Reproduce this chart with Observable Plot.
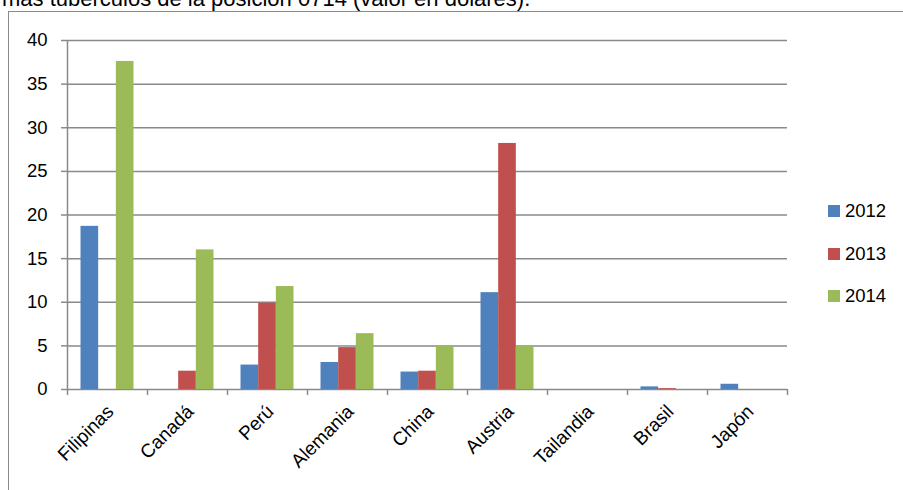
<!DOCTYPE html>
<html>
<head>
<meta charset="utf-8">
<script src="https://cdn.jsdelivr.net/npm/d3@7"></script>
<script src="https://cdn.jsdelivr.net/npm/@observablehq/plot@0.6"></script>
<style>
  html, body { margin: 0; padding: 0; background: #fff; }
  #wrap { position: relative; width: 903px; height: 490px; overflow: hidden; font-family: "Liberation Sans", Arial, sans-serif; }
  #title { position: absolute; left: 2px; top: -11.6px; font-size: 22px; line-height: 22px; white-space: nowrap; color: #000; }
  #frame { position: absolute; left: 8px; top: 11px; width: 1200px; height: 1200px; border-left: 1.5px solid #8a8a8a; border-top: 1.5px solid #8a8a8a; }
  #chart { position: absolute; left: 0; top: 0; }
  #legend { position: absolute; left: 828px; top: 198px; font-size: 18.5px; }
  .item { position: relative; height: 42.5px; }
  .sw { position: absolute; left: 0; top: 7px; width: 12px; height: 12px; }
  .lb { position: absolute; left: 17px; top: 0; line-height: 26px; }
</style>
</head>
<body>
<div id="wrap">
  <div id="frame"></div>
  <div id="title">mas tuberculos de la posición 0714 (valor en dólares).</div>
  <div id="chart"></div>
  <div id="legend"></div>
</div>
<script>
const countries = ["Filipinas", "Canadá", "Perú", "Alemania", "China", "Austria", "Tailandia", "Brasil", "Japón"];
const years = ["2012", "2013", "2014"];
const v2012 = [18.7, 0, 2.8, 3.1, 2.0, 11.1, 0, 0.3, 0.6];
const v2013 = [0, 2.1, 9.9, 4.8, 2.1, 28.2, 0, 0.1, 0];
const v2014 = [37.6, 16.0, 11.8, 6.4, 5.0, 5.0, 0, 0, 0];
const colors = ["#4F81BD", "#C0504D", "#9BBB59"];
const yTicks = [0, 5, 10, 15, 20, 25, 30, 35, 40];

const series = [v2012, v2013, v2014];
const data = [];
series.forEach((vals, j) => vals.forEach((v, i) => data.push({country: countries[i], year: years[j], value: v})));

const W = 903, H = 490, mL = 67, mR = 116, mT = 40, mB = 101;
const step = (W - mL - mR) / countries.length;   // band width
const pad = 13.5;
const bw = (step - 2 * pad) / years.length;

const barMarks = years.map((yr, j) =>
  Plot.barY(data.filter(d => d.year === yr), {
    x: "country", y: "value", fill: colors[j],
    insetLeft: pad + j * bw, insetRight: step - pad - (j + 1) * bw
  })
);

const chart = Plot.plot({
  width: W, height: H,
  marginLeft: mL, marginRight: mR, marginTop: mT, marginBottom: mB,
  style: {fontFamily: "Liberation Sans, Arial, sans-serif", fontSize: "18.5px", color: "#000", overflow: "visible"},
  x: {domain: countries, padding: 0},
  y: {domain: [0, 40]},
  marks: [
    Plot.ruleY(yTicks, {stroke: "#8a8a8a", strokeWidth: 1.5}),
    Plot.ruleX([countries[0]], {dx: -step / 2, y1: 0, y2: 40, stroke: "#8a8a8a", strokeWidth: 1.5}),
    ...barMarks,
    Plot.axisY({ticks: yTicks, tickSize: 6, tickPadding: 14, stroke: "#8a8a8a", fill: "#000", strokeWidth: 1.5, label: null}),
    Plot.axisX({tickSize: 6, tickFormat: () => "", dx: -step / 2, stroke: "#8a8a8a", strokeWidth: 1.5, label: null}),
    Plot.axisX({ticks: [countries[countries.length - 1]], tickSize: 6, tickFormat: () => "", dx: step / 2, stroke: "#8a8a8a", strokeWidth: 1.5, label: null}),
    Plot.axisX({tickSize: 0, tickRotate: -45, tickPadding: 19, dx: 3, fill: "#000", fontSize: 19, label: null})
  ]
});
document.getElementById("chart").appendChild(chart);

const legend = document.getElementById("legend");
years.forEach((yr, j) => {
  const it = document.createElement("div");
  it.className = "item";
  it.innerHTML = `<span class="sw" style="background:${colors[j]}"></span><span class="lb">${yr}</span>`;
  legend.appendChild(it);
});
</script>
</body>
</html>
